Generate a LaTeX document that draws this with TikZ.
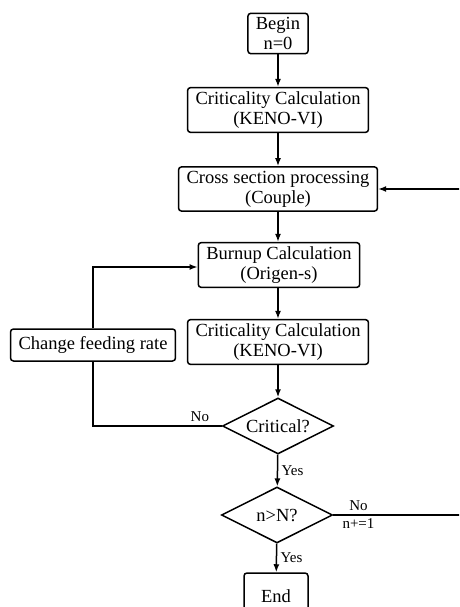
\documentclass[tikz,border=0pt]{standalone}
\usepackage{fontspec}
\setmainfont{Liberation Serif}
\usepackage{tikz}
\usetikzlibrary{shapes.geometric}
\usetikzlibrary{arrows.meta}

\begin{document}
\begin{tikzpicture}[x=1pt,y=-1pt,line width=1.5pt,
  >={Latex[length=8pt,width=6pt]},
  box/.style={draw,rounded corners=3pt,align=center,inner xsep=8pt,inner ysep=4pt,minimum height=32pt,font=\fontsize{18.5}{20}\selectfont},
  test/.style={draw,diamond,aspect=2,inner sep=0pt,minimum width=111pt,minimum height=56pt,font=\fontsize{18.5}{20}\selectfont},
  lbl/.style={font=\fontsize{15}{17}\selectfont}]
  \useasboundingbox (0,0) rectangle (459,607);
  \clip (0,0) rectangle (459,607);
  \node[box] (begin) at (278,33.5) {Begin\\n=0};
  \node[box] (crit1) at (278,110) {Criticality Calculation\\(KENO-VI)};
  \node[box] (cross) at (278,189) {Cross section processing\\(Couple)};
  \node[box] (burnup) at (279,265) {Burnup Calculation\\(Origen-s)};
  \node[box] (crit2) at (278,342) {Criticality Calculation\\(KENO-VI)};
  \node[box] (change) at (93,345) {Change feeding rate};
  \node[test] (critical) at (278,426) {Critical?};
  \node[test] (nN) at (277,515) {n>N?};
  \node[box,minimum width=64pt,minimum height=46pt] (end) at (276,596) {End};
  \coordinate (back) at (466,189);
  \draw[->] (begin) -- (crit1);
  \draw[->] (crit1) -- (cross);
  \draw[->] (cross) -- (cross |- burnup.north);
  \draw[->] (burnup.south -| crit2) -- (crit2);
  \draw[->] (crit2) -- (critical);
  \draw[->] (critical) -- node[lbl,right] {Yes} (nN);
  \draw[->] (nN) -- node[lbl,right] {Yes} (end);
  \draw (critical.west) -| node[lbl,pos=0.085,above] {No} (change.south);
  \draw[->] (change.north) |- ([yshift=-2pt]burnup.west);
  \draw[->] (nN.east) -- node[lbl,pos=0.19,above] {No} node[lbl,pos=0.19,below] {n+=1} (nN.east -| back) |- (cross.east);
\end{tikzpicture}
\end{document}
